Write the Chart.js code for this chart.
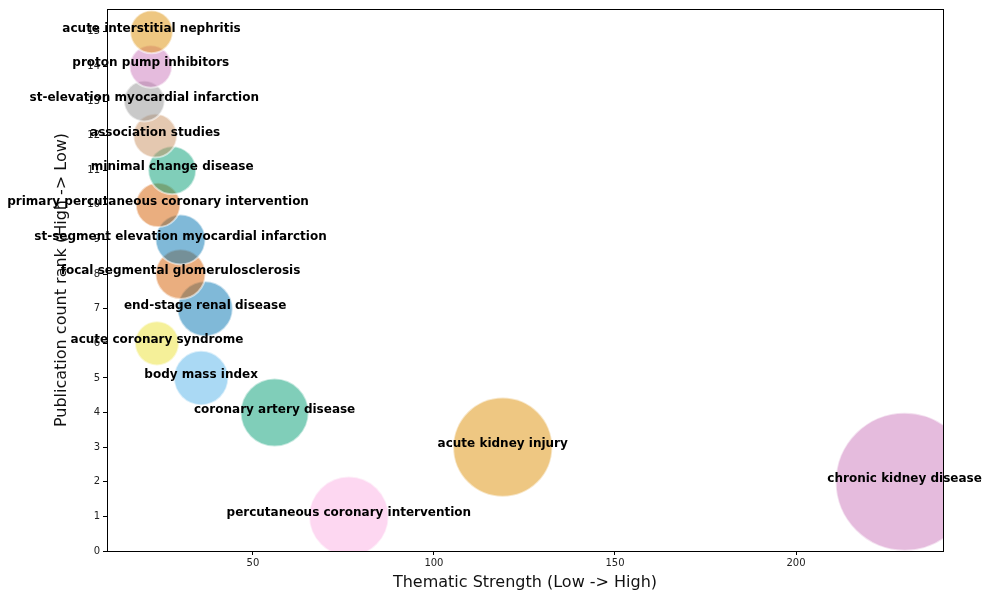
<!DOCTYPE html>
<html>
<head>
<meta charset="utf-8">
<script src="https://cdn.jsdelivr.net/npm/chart.js@4/dist/chart.umd.min.js"></script>
<style>
  html, body { margin: 0; padding: 0; background: #fff; }
  #wrap { width: 989px; height: 598px; }
</style>
</head>
<body>
<div id="wrap"><canvas id="bubbles" width="989" height="598"></canvas></div>
<script>
// Topics, ranked by publication count (1 = most publications)
const topics = [
  'percutaneous coronary intervention',
  'chronic kidney disease',
  'acute kidney injury',
  'coronary artery disease',
  'body mass index',
  'acute coronary syndrome',
  'end-stage renal disease',
  'focal segmental glomerulosclerosis',
  'st-segment elevation myocardial infarction',
  'primary percutaneous coronary intervention',
  'minimal change disease',
  'association studies',
  'st-elevation myocardial infarction',
  'proton pump inhibitors',
  'acute interstitial nephritis'
];
const ranks = [1, 2, 3, 4, 5, 6, 7, 8, 9, 10, 11, 12, 13, 14, 15];
const strength = [76.5, 230, 119, 56, 35.7, 23.5, 36.8, 30, 30, 23.8, 27.7, 23, 20, 21.8, 22];
const palette = [
  '#FBAFE4', '#CC78BC', '#DE8F05', '#029E73', '#56B4E9',
  '#ECE133', '#0173B2', '#D55E00', '#0173B2', '#D55E00',
  '#029E73', '#CA9161', '#949494', '#CC78BC', '#DE8F05'
];
const xTicks = [50, 100, 150, 200];
const yTicks = [0, 1, 2, 3, 4, 5, 6, 7, 8, 9, 10, 11, 12, 13, 14, 15];

function withAlpha(hex, a) {
  const n = parseInt(hex.slice(1), 16);
  return `rgba(${(n >> 16) & 255}, ${(n >> 8) & 255}, ${n & 255}, ${a})`;
}

// bubble area grows with thematic strength
const points = strength.map((s, i) => ({ x: s, y: ranks[i], r: 4.55 * Math.sqrt(s) }));

const labelPlugin = {
  id: 'topicLabels',
  afterDatasetsDraw(chart) {
    const ctx = chart.ctx;
    const meta = chart.getDatasetMeta(0);
    ctx.save();
    ctx.font = 'bold 12px "DejaVu Sans"';
    ctx.fillStyle = '#000';
    ctx.textAlign = 'center';
    ctx.textBaseline = 'alphabetic';
    meta.data.forEach((el, i) => {
      ctx.fillText(topics[i], el.x, el.y);
    });
    ctx.restore();
  }
};

const framePlugin = {
  id: 'frame',
  afterDraw(chart) {
    const { left, top, right, bottom } = chart.chartArea;
    const ctx = chart.ctx;
    ctx.save();
    ctx.strokeStyle = '#000';
    ctx.lineWidth = 1;
    ctx.strokeRect(Math.round(left) + 0.5, Math.round(top) + 0.5,
      Math.round(right - left), Math.round(bottom - top));
    ctx.restore();
  }
};

const tickFont = { family: '"DejaVu Sans"', size: 10 };
const titleFont = { family: '"DejaVu Sans"', size: 16 };

new Chart(document.getElementById('bubbles'), {
  type: 'bubble',
  data: {
    datasets: [{
      data: points,
      backgroundColor: palette.map(c => withAlpha(c, 0.5)),
      borderColor: 'rgba(255, 255, 255, 0.55)',
      borderWidth: 2,
      clip: 0
    }]
  },
  options: {
    responsive: false,
    animation: false,
    events: [],
    layout: { autoPadding: false, padding: { top: 8, right: 46, left: 0, bottom: 0 } },
    plugins: {
      legend: { display: false },
      tooltip: { enabled: false }
    },
    scales: {
      x: {
        type: 'linear',
        min: 9.7,
        max: 240.6,
        afterBuildTicks: scale => { scale.ticks = xTicks.map(v => ({ value: v })); },
        afterFit: scale => { scale.height = 47; },
        grid: { drawOnChartArea: false, drawTicks: true, tickLength: 4, color: '#000' },
        border: { display: true, color: '#000', width: 1 },
        ticks: { color: '#222', font: tickFont, padding: 2, maxRotation: 0 },
        title: {
          display: true,
          text: 'Thematic Strength (Low -> High)',
          color: '#111',
          font: titleFont,
          padding: { top: 0, bottom: 6 }
        }
      },
      y: {
        type: 'linear',
        min: 0,
        max: 15.66,
        afterBuildTicks: scale => { scale.ticks = yTicks.map(v => ({ value: v })); },
        afterFit: scale => { scale.width = 107; },
        grid: { drawOnChartArea: false, drawTicks: true, tickLength: 4, color: '#000' },
        border: { display: true, color: '#000', width: 1 },
        ticks: { color: '#222', font: tickFont, padding: 3 },
        title: {
          display: true,
          text: 'Publication count rank (High -> Low)',
          color: '#111',
          font: titleFont,
          padding: { top: 52, bottom: 0 }
        }
      }
    }
  },
  plugins: [labelPlugin, framePlugin]
});
</script>
</body>
</html>
